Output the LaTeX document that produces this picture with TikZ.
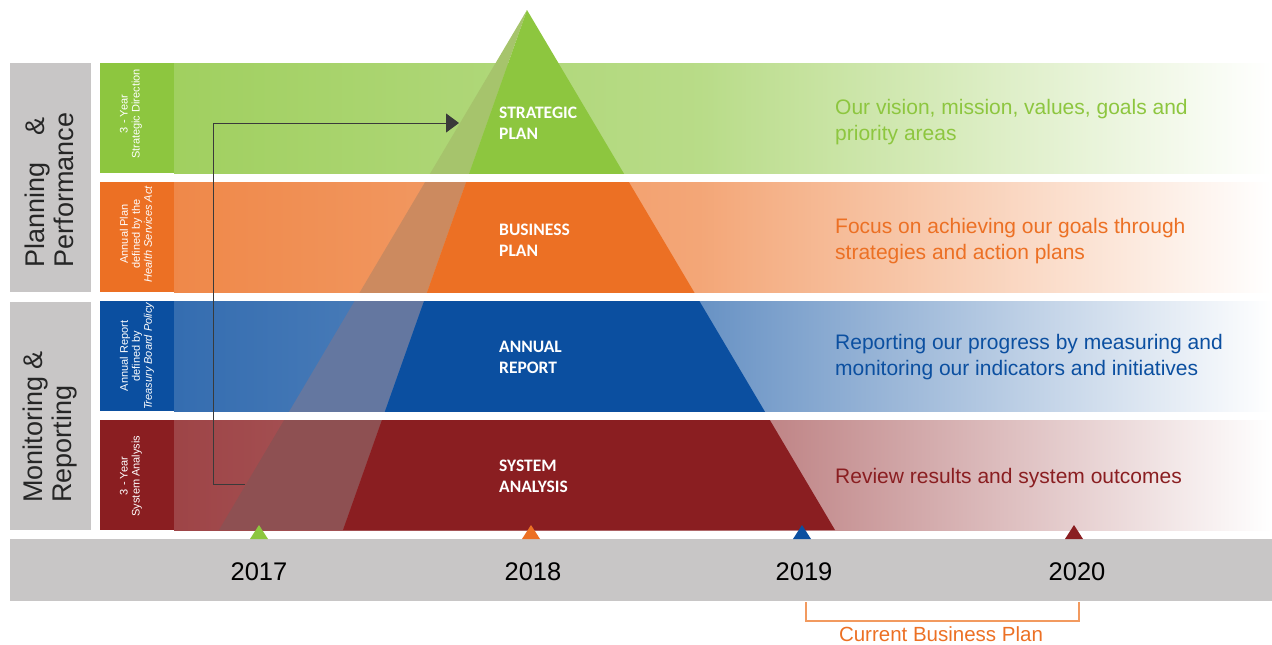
\documentclass[tikz,border=0pt]{standalone}
\usepackage{fontspec}
\setmainfont{Liberation Sans}
\newfontfamily\pyrfont{Carlito}
\usetikzlibrary{arrows.meta}

\definecolor{cgreen}{HTML}{8DC63F}
\definecolor{corange}{HTML}{EC7024}
\definecolor{cblue}{HTML}{0B4FA0}
\definecolor{cred}{HTML}{8A1E21}
\definecolor{fgreen}{HTML}{A6C46C}
\definecolor{forange}{HTML}{CC8A5F}
\definecolor{fblue}{HTML}{6477A0}
\definecolor{fred}{HTML}{8E5052}
\definecolor{panel}{HTML}{C8C6C6}
\definecolor{bracketc}{HTML}{F29A5F}
\definecolor{loopc}{HTML}{3A3A3A}

% one horizontal band: colour, face colour, top, bottom, clip top for the pyramid
\newcommand\pyrband[5]{%
  \fill[#1] (100,#3) rectangle (174,#4);
  \shade[left color=#1!83, right color=#1!62] (174,#3) rectangle (700.5,#4);
  \shade[left color=#1!62, right color=white] (700,#3) rectangle (1272,#4);
  \begin{scope}
    \clip (174,#5) rectangle (1272,#4);
    \fill[#2] (apex) -- (faceL) -- (solidL) -- cycle;
    \fill[#1] (apex) -- (solidL) -- (baseR) -- cycle;
  \end{scope}}

\tikzset{
  pyrlabel/.style={font=\pyrfont\bfseries\fontsize{17.5}{21}\selectfont,
    text=white, anchor=west, align=left, inner sep=0pt},
  desc/.style={font=\fontsize{21}{26}\selectfont, anchor=west, align=left, inner sep=0pt},
  colabel/.style={font=\fontsize{11}{12}\selectfont, text=white, rotate=90,
    align=center, inner sep=0pt},
  biglabel/.style={font=\fontsize{27}{29}\selectfont, text=black!85, rotate=90,
    align=left, inner sep=0pt},
  year/.style={font=\fontsize{25.5}{30}\selectfont, text=black, inner sep=0pt},
  loopline/.style={draw=loopc, line width=1pt, -{Triangle[length=13pt,width=19pt]}},
}

\begin{document}
\begin{tikzpicture}[x=1pt, y=-1pt]
\useasboundingbox (0,0) rectangle (1272,645);

% pyramid geometry
\coordinate (apex) at (527,10);
\coordinate (faceL) at (219,530);
\coordinate (solidL) at (343,530);
\coordinate (baseR) at (835,530);

% side panels and time line
\fill[panel] (10,63) rectangle (91,292);
\fill[panel] (10,302) rectangle (91,530);
\fill[panel] (10,539) rectangle (1272,601);

% bands with the pyramid cut into them
\pyrband{cgreen}{fgreen}{63}{173}{0}
\pyrband{corange}{forange}{182}{292}{182}
\pyrband{cblue}{fblue}{301}{411}{301}
\pyrband{cred}{fred}{420}{530}{420}

% side panel titles
\node[biglabel] (plan) at (49,190) {\makebox[150pt][s]{Planning \&}\\Performance};
\node[biglabel] (mon) at (50,427) {Monitoring \&\\Reporting};

% band captions
\node[colabel] (c1) at (131,114) {3 - Year\\Strategic Direction};
\node[colabel] (c2) at (136,234) {Annual Plan\\defined by the\\\textit{Health Services Act}};
\node[colabel] (c3) at (137,356) {Annual Report\\defined by\\\textit{Treasury Board Policy}};
\node[colabel] (c4) at (131,476) {3 - Year\\System Analysis};

% pyramid labels
\node[pyrlabel] (sp) at (499,123) {STRATEGIC\\PLAN};
\node[pyrlabel] (bp) at (499,240) {BUSINESS\\PLAN};
\node[pyrlabel] (ar) at (499,357) {ANNUAL\\REPORT};
\node[pyrlabel] (sa) at (499,476) {SYSTEM\\ANALYSIS};

% descriptions
\node[desc, text=cgreen] (d1) at (835,122) {Our vision, mission, values, goals and\\priority areas};
\node[desc, text=corange] (d2) at (835,241) {Focus on achieving our goals through\\strategies and action plans};
\node[desc, text=cblue] (d3) at (835,357) {Reporting our progress by measuring and\\monitoring our indicators and initiatives};
\node[desc, text=cred] (d4) at (835,478) {Review results and system outcomes};

% years and markers
\node[year] (y1) at (259,572) {2017};
\node[year] (y2) at (533,572) {2018};
\node[year] (y3) at (804,572) {2019};
\node[year] (y4) at (1077,572) {2020};
\fill[cgreen] (250,539) -- (268,539) -- (259,525) -- cycle;
\fill[corange] (522,539) -- (540,539) -- (531,525) -- cycle;
\fill[cblue] (793,539) -- (811,539) -- (802,525) -- cycle;
\fill[cred] (1065,539) -- (1083,539) -- (1074,525) -- cycle;

% current business plan bracket
\draw[bracketc, line width=1.5pt] (806,602) -- (806,621) -- (1079,621) -- (1079,602);
\node[font=\fontsize{20.5}{24}\selectfont, text=corange, inner sep=0pt] (cbp) at (941,634) {Current Business Plan};

% feedback loop from system analysis back to the strategic plan
\coordinate (loopstart) at (245,484);
\coordinate (loopend) at (459,123);
\draw[loopline] (loopstart) -- (213,484) |- (loopend);
\end{tikzpicture}
\end{document}
